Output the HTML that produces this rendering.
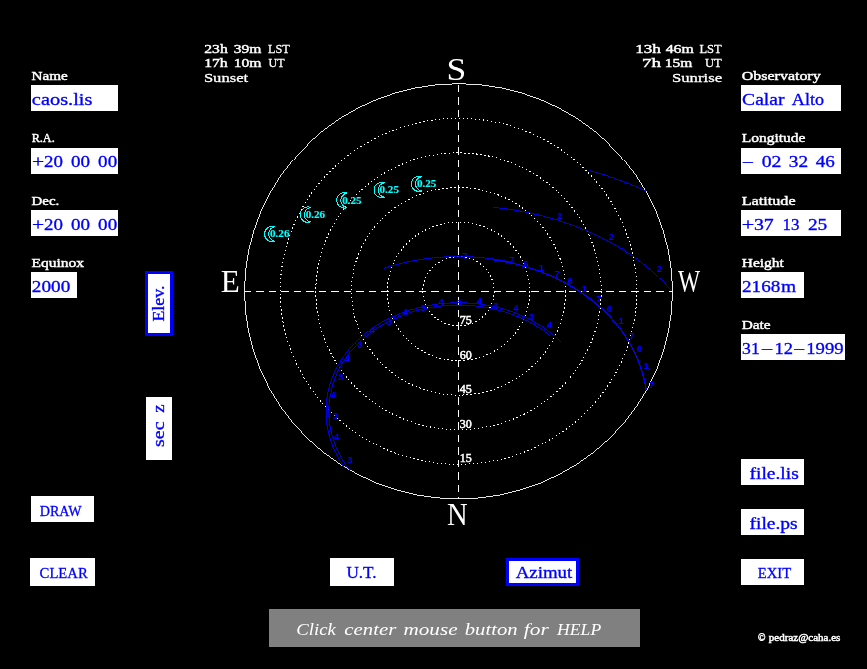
<!DOCTYPE html>
<html><head><meta charset="utf-8"><title>Visibility</title>
<style>html,body{margin:0;padding:0;background:#000;overflow:hidden}svg{display:block;will-change:transform}text{font-family:"Liberation Serif",serif;white-space:pre}.sm text{font-family:"Liberation Sans",sans-serif}</style>
</head><body>
<svg width="867" height="669" viewBox="0 0 867 669">
<rect width="867" height="669" fill="#000"/>
<rect x="31" y="85" width="87" height="26" fill="#fff"/>
<rect x="31" y="148" width="87" height="26" fill="#fff"/>
<rect x="31" y="210" width="87" height="26" fill="#fff"/>
<rect x="31" y="272" width="46" height="26" fill="#fff"/>
<rect x="741" y="85" width="100" height="26" fill="#fff"/>
<rect x="741" y="148" width="100" height="26" fill="#fff"/>
<rect x="741" y="210" width="100" height="26" fill="#fff"/>
<rect x="741" y="272" width="63" height="26" fill="#fff"/>
<rect x="741" y="334" width="104" height="26" fill="#fff"/>
<rect x="741" y="459" width="63" height="26" fill="#fff"/>
<rect x="741" y="509" width="63" height="26" fill="#fff"/>
<rect x="741" y="559" width="63" height="26" fill="#fff"/>
<rect x="31" y="496" width="63" height="26" fill="#fff"/>
<rect x="30" y="558" width="65" height="28" fill="#fff"/>
<rect x="330" y="558" width="64" height="28" fill="#fff"/>
<rect x="145" y="271" width="28" height="65" fill="#0000ff"/>
<rect x="148" y="274" width="22" height="59" fill="#fff"/>
<rect x="146" y="397" width="26" height="63" fill="#fff"/>
<rect x="506" y="558" width="73" height="28" fill="#0000ff"/>
<rect x="509" y="561" width="67" height="22" fill="#fff"/>
<rect x="269" y="609" width="371" height="38" fill="#808080"/>
<g fill="#fff" stroke="#fff" stroke-width="0.45">
<text x="31.54" y="79.7" font-size="13.2" textLength="36.25" lengthAdjust="spacingAndGlyphs">Name</text>
<text x="31.63" y="141.7" font-size="13.2" textLength="23.15" lengthAdjust="spacingAndGlyphs">R.A.</text>
<text x="31.55" y="204.7" font-size="13.2" textLength="27.71" lengthAdjust="spacingAndGlyphs">Dec.</text>
<text x="31.54" y="266.7" font-size="13.2" textLength="52.5" lengthAdjust="spacingAndGlyphs">Equinox</text>
<text x="741.86" y="79.7" font-size="13.2" textLength="78.78" lengthAdjust="spacingAndGlyphs">Observatory</text>
<text x="741.73" y="141.7" font-size="13.2" textLength="63.81" lengthAdjust="spacingAndGlyphs">Longitude</text>
<text x="741.71" y="204.5" font-size="13.2" textLength="53.9" lengthAdjust="spacingAndGlyphs">Latitude</text>
<text x="741.74" y="266.5" font-size="13.2" textLength="42.07" lengthAdjust="spacingAndGlyphs">Height</text>
<text x="741.74" y="328.5" font-size="13.2" textLength="28.96" lengthAdjust="spacingAndGlyphs">Date</text>
<text x="204.3" y="53" font-size="13.2" textLength="23.44" lengthAdjust="spacingAndGlyphs">23h</text>
<text x="233.8" y="53" font-size="13.2" textLength="27.7" lengthAdjust="spacingAndGlyphs">39m</text>
<text x="267.93" y="53" font-size="13.2" textLength="21.89" lengthAdjust="spacingAndGlyphs" stroke-width="0.3">LST</text>
<text x="204.16" y="67.2" font-size="13.2" textLength="23.57" lengthAdjust="spacingAndGlyphs">17h</text>
<text x="233.67" y="67.2" font-size="13.2" textLength="27.83" lengthAdjust="spacingAndGlyphs">10m</text>
<text x="268.56" y="67.2" font-size="13.2" textLength="16.06" lengthAdjust="spacingAndGlyphs" stroke-width="0.3">UT</text>
<text x="203.92" y="81.5" font-size="13.2" textLength="44.19" lengthAdjust="spacingAndGlyphs" stroke-width="0.3">Sunset</text>
<text x="635.24" y="53" font-size="13.2" textLength="25.71" lengthAdjust="spacingAndGlyphs">13h</text>
<text x="665.68" y="53" font-size="13.2" textLength="28.02" lengthAdjust="spacingAndGlyphs">46m</text>
<text x="699.42" y="53" font-size="13.2" textLength="22.3" lengthAdjust="spacingAndGlyphs" stroke-width="0.3">LST</text>
<text x="641.96" y="67.2" font-size="13.2" textLength="19.02" lengthAdjust="spacingAndGlyphs">7h</text>
<text x="664.68" y="67.2" font-size="13.2" textLength="27.51" lengthAdjust="spacingAndGlyphs">15m</text>
<text x="704.95" y="67.2" font-size="13.2" textLength="16.78" lengthAdjust="spacingAndGlyphs" stroke-width="0.3">UT</text>
<text x="671.91" y="81.5" font-size="13.2" textLength="50.17" lengthAdjust="spacingAndGlyphs" stroke-width="0.3">Sunrise</text>
<text x="757.91" y="640.9" font-size="9.6" textLength="7.49" lengthAdjust="spacingAndGlyphs">©</text>
<text x="768.83" y="640.9" font-size="9.6" textLength="71.55" lengthAdjust="spacingAndGlyphs">pedraz@caha.es</text>
</g>
<g fill="#0000ff" stroke="#0000ff" stroke-width="0.32">
<text x="31.88" y="105" font-size="16.8" textLength="60.56" lengthAdjust="spacingAndGlyphs">caos.lis</text>
<text x="31.92" y="166.8" font-size="16.2" textLength="12.13" lengthAdjust="spacingAndGlyphs">+</text>
<text x="43.95" y="166.8" font-size="16.2" textLength="18.91" lengthAdjust="spacingAndGlyphs">20</text>
<text x="70.94" y="166.8" font-size="16.2" textLength="19.02" lengthAdjust="spacingAndGlyphs">00</text>
<text x="98.14" y="166.8" font-size="16.2" textLength="19.02" lengthAdjust="spacingAndGlyphs">00</text>
<text x="31.92" y="229.7" font-size="16.2" textLength="12.13" lengthAdjust="spacingAndGlyphs">+</text>
<text x="43.95" y="229.7" font-size="16.2" textLength="18.91" lengthAdjust="spacingAndGlyphs">20</text>
<text x="70.94" y="229.7" font-size="16.2" textLength="19.02" lengthAdjust="spacingAndGlyphs">00</text>
<text x="98.14" y="229.7" font-size="16.2" textLength="19.02" lengthAdjust="spacingAndGlyphs">00</text>
<text x="31.84" y="291.9" font-size="16.2" textLength="38.43" lengthAdjust="spacingAndGlyphs">2000</text>
<text x="742.12" y="105" font-size="16.8" textLength="42.29" lengthAdjust="spacingAndGlyphs">Calar</text>
<text x="791.82" y="105" font-size="16.8" textLength="32.17" lengthAdjust="spacingAndGlyphs">Alto</text>
<text x="761.71" y="166.7" font-size="16.2" textLength="19.78" lengthAdjust="spacingAndGlyphs">02</text>
<text x="788.83" y="166.7" font-size="16.2" textLength="19.33" lengthAdjust="spacingAndGlyphs">32</text>
<text x="815.82" y="166.7" font-size="16.2" textLength="19.05" lengthAdjust="spacingAndGlyphs">46</text>
<text x="741.79" y="230" font-size="16.2" textLength="12.49" lengthAdjust="spacingAndGlyphs">+</text>
<text x="753.91" y="230" font-size="16.2" textLength="19.78" lengthAdjust="spacingAndGlyphs">37</text>
<text x="782.46" y="230" font-size="16.2" textLength="16.91" lengthAdjust="spacingAndGlyphs">13</text>
<text x="807.93" y="230" font-size="16.2" textLength="19.34" lengthAdjust="spacingAndGlyphs">25</text>
<text x="742.04" y="292.3" font-size="16.2" textLength="38.22" lengthAdjust="spacingAndGlyphs">2168</text>
<text x="780.91" y="292.3" font-size="16.2" textLength="15.14" lengthAdjust="spacingAndGlyphs">m</text>
<text x="742.11" y="354" font-size="16.2" textLength="17.65" lengthAdjust="spacingAndGlyphs">31</text>
<text x="774.53" y="354" font-size="16.2" textLength="18.49" lengthAdjust="spacingAndGlyphs">12</text>
<text x="806.21" y="354" font-size="16.2" textLength="37.44" lengthAdjust="spacingAndGlyphs">1999</text>
<text x="749.52" y="478.6" font-size="16.5" textLength="49.21" lengthAdjust="spacingAndGlyphs">file.lis</text>
<text x="749.51" y="528.6" font-size="16.5" textLength="48.2" lengthAdjust="spacingAndGlyphs">file.ps</text>
<text x="757.76" y="577.7" font-size="15.6" textLength="33.39" lengthAdjust="spacingAndGlyphs">EXIT</text>
<text x="39.78" y="515.7" font-size="15.6" textLength="41.9" lengthAdjust="spacingAndGlyphs">DRAW</text>
<text x="39.61" y="577.7" font-size="15.6" textLength="48.13" lengthAdjust="spacingAndGlyphs">CLEAR</text>
<text x="346.46" y="578" font-size="16.5" textLength="30.14" lengthAdjust="spacingAndGlyphs">U.T.</text>
<text x="515.71" y="577.5" font-size="16" textLength="56.57" lengthAdjust="spacingAndGlyphs">Azimut</text>
<g transform="translate(163.9,321.6) rotate(-90)">
<text x="0" y="0" font-size="16.3" textLength="36" lengthAdjust="spacingAndGlyphs">Elev.</text>
</g>
<g transform="translate(164.1,446.1) rotate(-90)">
<text x="-0.8" y="0" font-size="17.5" textLength="25.43" lengthAdjust="spacingAndGlyphs">sec</text>
<text x="33.43" y="0" font-size="17.5" textLength="8.31" lengthAdjust="spacingAndGlyphs">z</text>
</g>
</g>
<g fill="#0000ff" stroke="#0000ff" stroke-width="0.32">
<text x="743.0" y="165.8" font-size="16.2" textLength="9.8" lengthAdjust="spacingAndGlyphs">–</text>
<text x="762.0" y="353.1" font-size="16.2" textLength="10.1" lengthAdjust="spacingAndGlyphs">–</text>
<text x="794.3" y="353.1" font-size="16.2" textLength="9.8" lengthAdjust="spacingAndGlyphs">–</text>
</g>
<g fill="#fff" font-style="italic">
<text x="296.37" y="634.6" font-size="17.5" textLength="39.56" lengthAdjust="spacingAndGlyphs">Click</text>
<text x="344.37" y="634.6" font-size="17.5" textLength="52.09" lengthAdjust="spacingAndGlyphs">center</text>
<text x="403.46" y="634.6" font-size="17.5" textLength="54.07" lengthAdjust="spacingAndGlyphs">mouse</text>
<text x="464.78" y="634.6" font-size="17.5" textLength="52.86" lengthAdjust="spacingAndGlyphs">button</text>
<text x="523.79" y="634.6" font-size="17.5" textLength="24.95" lengthAdjust="spacingAndGlyphs">for</text>
<text x="557.08" y="634.6" font-size="17.5" textLength="44.07" lengthAdjust="spacingAndGlyphs">HELP</text>
</g>
<g fill="none" stroke="#fff" stroke-width="1" shape-rendering="crispEdges">
<ellipse cx="458.5" cy="291.3" rx="214.0" ry="207.6" stroke-width="0.9"/>
<ellipse cx="458.5" cy="291.3" rx="35.67" ry="34.60" stroke-dasharray="1.4 2.6"/>
<ellipse cx="458.5" cy="291.3" rx="71.33" ry="69.20" stroke-dasharray="1.4 2.6"/>
<ellipse cx="458.5" cy="291.3" rx="107.00" ry="103.80" stroke-dasharray="1.4 2.6"/>
<ellipse cx="458.5" cy="291.3" rx="142.67" ry="138.40" stroke-dasharray="1.4 2.6"/>
<ellipse cx="458.5" cy="291.3" rx="178.33" ry="173.00" stroke-dasharray="1.4 2.6"/>
<path d="M244.5 291.5H672.5" stroke-dasharray="7.5 5" stroke-dashoffset="1"/>
<path d="M458.5 83.70000000000002V498.9" stroke-dasharray="7.5 5" stroke-dashoffset="-1"/>
</g>
<g fill="#fff">
<text x="446.49" y="80" font-size="32.3" textLength="19.79" lengthAdjust="spacingAndGlyphs">S</text>
<text x="447.04" y="525" font-size="32.3" textLength="20.7" lengthAdjust="spacingAndGlyphs">N</text>
<text x="220.87" y="292" font-size="32.3" textLength="19.02" lengthAdjust="spacingAndGlyphs">E</text>
<text x="678.0" y="292" font-size="32.3" textLength="22.09" lengthAdjust="spacingAndGlyphs">W</text>
</g>
<g fill="#fff" stroke="#fff" stroke-width="0.5">
<text x="459.8" y="323.9" font-size="11.5" textLength="12" lengthAdjust="spacingAndGlyphs">75</text>
<text x="459.8" y="358.5" font-size="11.5" textLength="12" lengthAdjust="spacingAndGlyphs">60</text>
<text x="459.8" y="393.1" font-size="11.5" textLength="12" lengthAdjust="spacingAndGlyphs">45</text>
<text x="459.8" y="427.7" font-size="11.5" textLength="12" lengthAdjust="spacingAndGlyphs">30</text>
<text x="459.8" y="462.3" font-size="11.5" textLength="12" lengthAdjust="spacingAndGlyphs">15</text>
</g>
<g fill="none" stroke="#0000ff" stroke-width="0.85" shape-rendering="crispEdges">
<path d="M349.2 469.7 L347.5 467.4 L345.8 465.0 L344.3 462.7 L342.8 460.3 L341.4 457.9 L340.1 455.4 L338.8 453.0 L337.7 450.6 L336.6 448.1 L335.6 445.7 L334.6 443.2 L333.8 440.8 L333.0 438.3 L332.2 435.9 L331.6 433.4 L331.0 431.0 L330.5 428.6 L330.1 426.1 L329.7 423.7 L329.4 421.3 L329.2 418.9 L329.0 416.6 L328.9 414.2 L328.8 411.8 L328.8 409.5 L328.9 407.2 L329.0 404.9 L329.2 402.6 L329.5 400.4 L329.8 398.1 L330.1 395.9 L330.5 393.7 L331.0 391.5 L331.5 389.4 L332.0 387.2 L332.6 385.1 L333.3 383.0 L334.0 381.0 L334.7 378.9 L335.5 376.9 L336.4 374.9 L337.2 373.0 L338.2 371.0 L339.1 369.1 L340.1 367.3 L341.2 365.4 L342.2 363.6 L343.4 361.8 L344.5 360.0 L345.7 358.3 L346.9 356.5 L348.2 354.8 L349.4 353.2 L350.8 351.6 L352.1 349.9 L353.5 348.4 L354.9 346.8 L356.3 345.3 L357.8 343.8 L359.3 342.3 L360.8 340.9 L362.3 339.5 L363.9 338.1 L365.5 336.8 L367.1 335.5 L368.7 334.2 L370.4 332.9 L372.0 331.7 L373.7 330.5 L375.4 329.3 L377.2 328.1 L378.9 327.0 L380.7 325.9 L382.5 324.9 L384.3 323.8 L386.1 322.8 L388.0 321.8 L389.8 320.9 L391.7 320.0 L393.6 319.1 L395.5 318.2 L397.4 317.4 L399.3 316.5 L401.3 315.8 L403.2 315.0 L405.2 314.3 L407.1 313.6 L409.1 312.9 L411.1 312.3 L413.1 311.7 L415.1 311.1 L417.1 310.5 L419.2 310.0 L421.2 309.5 L423.2 309.0 L425.3 308.5 L427.4 308.1 L429.4 307.7 L431.5 307.4 L433.6 307.0 L435.6 306.7 L437.7 306.4 L439.8 306.2 L441.9 305.9 L444.0 305.7 L446.1 305.6 L448.2 305.4 L450.3 305.3 L452.4 305.2 L454.5 305.1 L456.6 305.1 L458.7 305.1 L460.8 305.1 L462.9 305.1 L465.0 305.2 L467.1 305.3 L469.2 305.4 L471.3 305.6 L473.4 305.8 L475.5 306.0 L477.5 306.2 L479.6 306.5 L481.7 306.8 L483.8 307.1 L485.9 307.4 L487.9 307.8 L490.0 308.2 L492.0 308.6 L494.1 309.1 L496.1 309.6 L498.2 310.1 L500.2 310.6 L502.2 311.2 L504.2 311.8 L506.2 312.4 L508.2 313.0 L510.2 313.7 L512.1 314.4 L514.1 315.1 L516.1 315.9 L518.0 316.7 L519.9 317.5 L521.8 318.3 L523.7 319.2 L525.6 320.1 L527.5 321.0 L529.3 322.0 L531.2 323.0 L533.0 324.0 L534.8 325.0 L536.6 326.1 L538.3 327.2 L540.1 328.3 L541.8 329.5 L543.5 330.6 L545.2 331.9 L546.9 333.1 L548.6 334.4 L550.2 335.7"/>
<path d="M344.9 468.4 L343.2 465.8 L341.6 463.3 L340.0 460.8 L338.5 458.2 L337.2 455.7 L335.9 453.1 L334.7 450.5 L333.5 447.9 L332.5 445.3 L331.5 442.8 L330.7 440.2 L329.9 437.6 L329.1 435.0 L328.5 432.4 L327.9 429.9 L327.4 427.3 L327.0 424.7 L326.7 422.2 L326.4 419.7 L326.2 417.2 L326.1 414.7 L326.0 412.2 L326.0 409.7 L326.1 407.3 L326.2 404.9 L326.4 402.4 L326.6 400.1 L327.0 397.7 L327.3 395.4 L327.8 393.1 L328.3 390.8 L328.8 388.5 L329.4 386.3 L330.0 384.0 L330.7 381.8 L331.5 379.7 L332.3 377.6 L333.1 375.4 L334.0 373.4 L335.0 371.3 L336.0 369.3 L337.0 367.3 L338.1 365.3 L339.2 363.4 L340.3 361.5 L341.5 359.6 L342.7 357.8 L344.0 356.0 L345.3 354.2 L346.6 352.4 L348.0 350.7 L349.4 349.0 L350.8 347.3 L352.3 345.7 L353.8 344.1 L355.3 342.5 L356.9 341.0 L358.5 339.5 L360.1 338.0 L361.7 336.6 L363.4 335.1 L365.1 333.8 L366.8 332.4 L368.5 331.1 L370.3 329.8 L372.1 328.5 L373.9 327.3 L375.7 326.1 L377.6 324.9 L379.4 323.8 L381.3 322.7 L383.2 321.6 L385.1 320.6 L387.1 319.5 L389.0 318.6 L391.0 317.6 L393.0 316.7 L395.0 315.8 L397.0 314.9 L399.0 314.1 L401.0 313.3 L403.1 312.5 L405.1 311.8 L407.2 311.0 L409.3 310.4 L411.4 309.7 L413.5 309.1 L415.6 308.5 L417.7 307.9 L419.9 307.4 L422.0 306.9 L424.1 306.4 L426.3 306.0 L428.4 305.5 L430.6 305.2 L432.8 304.8 L435.0 304.5 L437.1 304.2 L439.3 303.9 L441.5 303.7 L443.7 303.4 L445.9 303.3 L448.1 303.1 L450.3 303.0 L452.5 302.9 L454.7 302.8 L456.9 302.8 L459.1 302.8 L461.3 302.8 L463.5 302.9 L465.7 302.9 L467.9 303.0 L470.1 303.2 L472.3 303.4 L474.5 303.6 L476.7 303.8 L478.8 304.0 L481.0 304.3 L483.2 304.6 L485.4 305.0 L487.5 305.4 L489.7 305.8 L491.9 306.2 L494.0 306.7 L496.1 307.1 L498.3 307.7 L500.4 308.2 L502.5 308.8 L504.6 309.4 L506.7 310.0 L508.8 310.7 L510.9 311.4 L513.0 312.1 L515.0 312.9 L517.1 313.7 L519.1 314.5 L521.1 315.4 L523.1 316.3 L525.1 317.2 L527.1 318.1 L529.0 319.1 L531.0 320.1 L532.9 321.1 L534.8 322.2 L536.7 323.3 L538.6 324.4 L540.4 325.5 L542.3 326.7 L544.1 327.9 L545.9 329.2 L547.6 330.5 L549.4 331.8 L551.1 333.1 L552.8 334.5 L554.5 335.9 L556.1 337.3 L557.8 338.8 L559.4 340.3 L560.9 341.8"/>
<path d="M383.9 268.3 L384.7 268.1 L385.5 267.8 L386.3 267.6 L387.1 267.3 L387.9 267.1 L388.6 266.8 L389.4 266.6 L390.2 266.4 L391.0 266.1 L391.8 265.9 L392.6 265.7 L393.4 265.4 L394.2 265.2 L395.0 265.0 L395.8 264.8 L396.6 264.5 L397.4 264.3 L398.2 264.1 L399.0 263.9 L399.8 263.7 L400.6 263.5 L401.4 263.3 L402.2 263.1 L403.0 262.9 L403.9 262.7 L404.7 262.6 L405.5 262.4 L406.3 262.2 L407.1 262.0 L407.9 261.8 L408.7 261.7 L409.5 261.5 L410.3 261.3 L411.1 261.2 L412.0 261.0 L412.8 260.8 L413.6 260.7 L414.4 260.5 L415.2 260.4 L416.0 260.2 L416.8 260.1 L417.7 260.0 L418.5 259.8 L419.3 259.7 L420.1 259.6 L420.9 259.4 L421.7 259.3 L422.6 259.2 L423.4 259.1 L424.2 258.9 L425.0 258.8 L425.8 258.7 L426.7 258.6 L427.5 258.5 L428.3 258.4 L429.1 258.3 L429.9 258.2 L430.8 258.1 L431.6 258.0 L432.4 257.9 L433.2 257.8 L434.0 257.8 L434.9 257.7 L435.7 257.6 L436.5 257.5 L437.3 257.4 L438.2 257.4 L439.0 257.3 L439.8 257.2 L440.6 257.2 L441.5 257.1 L442.3 257.1 L443.1 257.0 L443.9 257.0 L444.8 256.9 L445.6 256.9 L446.4 256.8 L447.2 256.8 L448.1 256.8 L448.9 256.7 L449.7 256.7 L450.5 256.7 L451.4 256.6 L452.2 256.6 L453.0 256.6 L453.8 256.6 L454.7 256.6 L455.5 256.5 L456.3 256.5 L457.2 256.5 L458.0 256.5 L458.8 256.5 L459.6 256.5 L460.5 256.5 L461.3 256.5 L462.1 256.6 L462.9 256.6 L463.8 256.6 L464.6 256.6 L465.4 256.6 L466.2 256.7 L467.1 256.7 L467.9 256.7 L468.7 256.7 L469.6 256.8 L470.4 256.8 L471.2 256.9 L472.0 256.9 L472.9 256.9 L473.7 257.0 L474.5 257.1 L475.3 257.1 L476.2 257.2 L477.0 257.2 L477.8 257.3 L478.6 257.4 L479.5 257.4 L480.3 257.5 L481.1 257.6 L481.9 257.6 L482.7 257.7 L483.6 257.8 L484.4 257.9 L485.2 258.0 L486.0 258.1 L486.9 258.2 L487.7 258.3 L488.5 258.4 L489.3 258.5 L490.1 258.6 L491.0 258.7 L491.8 258.8 L492.6 258.9 L493.4 259.0 L494.2 259.2 L495.1 259.3 L495.9 259.4 L496.7 259.5 L497.5 259.7 L498.3 259.8 L499.1 259.9 L500.0 260.1 L500.8 260.2 L501.6 260.4 L502.4 260.5 L503.2 260.7 L504.0 260.8 L504.8 261.0 L505.7 261.1 L506.5 261.3 L507.3 261.5 L508.1 261.6 L508.9 261.8 L509.7 262.0 L510.5 262.1 L511.3 262.3 L512.1 262.5 L512.9 262.7 L513.7 262.9"/>
<path d="M491.7 259.5 L493.0 259.7 L494.3 259.9 L495.6 260.1 L496.9 260.3 L498.2 260.5 L499.4 260.7 L500.7 260.9 L502.0 261.1 L503.3 261.4 L504.6 261.6 L505.8 261.9 L507.1 262.1 L508.4 262.4 L509.7 262.7 L510.9 263.0 L512.2 263.2 L513.5 263.5 L514.7 263.8 L516.0 264.2 L517.3 264.5 L518.5 264.8 L519.8 265.1 L521.1 265.5 L522.3 265.8 L523.6 266.2 L524.8 266.5 L526.1 266.9 L527.3 267.3 L528.6 267.6 L529.8 268.0 L531.1 268.4 L532.3 268.8 L533.5 269.3 L534.8 269.7 L536.0 270.1 L537.2 270.5 L538.5 271.0 L539.7 271.4 L540.9 271.9 L542.1 272.3 L543.4 272.8 L544.6 273.3 L545.8 273.8 L547.0 274.3 L548.2 274.8 L549.4 275.3 L550.6 275.8 L551.8 276.3 L553.0 276.9 L554.2 277.4 L555.4 278.0 L556.6 278.5 L557.8 279.1 L558.9 279.7 L560.1 280.2 L561.3 280.8 L562.5 281.4 L563.6 282.0 L564.8 282.7 L565.9 283.3 L567.1 283.9 L568.3 284.5 L569.4 285.2 L570.5 285.8 L571.7 286.5 L572.8 287.2 L574.0 287.9 L575.1 288.5 L576.2 289.2 L577.3 289.9 L578.4 290.7 L579.5 291.4 L580.6 292.1 L581.7 292.8 L582.8 293.6 L583.9 294.3 L585.0 295.1 L586.1 295.9 L587.2 296.7 L588.2 297.5 L589.3 298.3 L590.4 299.1 L591.4 299.9 L592.5 300.7 L593.5 301.5 L594.5 302.4 L595.6 303.2 L596.6 304.1 L597.6 305.0 L598.6 305.8 L599.6 306.7 L600.6 307.6 L601.6 308.5 L602.6 309.4 L603.6 310.4 L604.6 311.3 L605.5 312.2 L606.5 313.2 L607.5 314.2 L608.4 315.1 L609.3 316.1 L610.3 317.1 L611.2 318.1 L612.1 319.1 L613.0 320.1 L613.9 321.2 L614.8 322.2 L615.7 323.2 L616.6 324.3 L617.5 325.4 L618.3 326.4 L619.2 327.5 L620.0 328.6 L620.8 329.7 L621.7 330.8 L622.5 332.0 L623.3 333.1 L624.1 334.3 L624.9 335.4 L625.6 336.6 L626.4 337.8 L627.2 338.9 L627.9 340.1 L628.6 341.3 L629.4 342.6 L630.1 343.8 L630.8 345.0 L631.5 346.3 L632.1 347.5 L632.8 348.8 L633.5 350.1 L634.1 351.4 L634.7 352.7 L635.4 354.0 L636.0 355.3 L636.6 356.6 L637.1 358.0 L637.7 359.3 L638.3 360.7 L638.8 362.0 L639.3 363.4 L639.8 364.8 L640.3 366.2 L640.8 367.6 L641.3 369.1 L641.7 370.5 L642.2 371.9 L642.6 373.4 L643.0 374.9 L643.4 376.3 L643.8 377.8 L644.1 379.3 L644.5 380.8 L644.8 382.3 L645.1 383.9 L645.4 385.4 L645.7 386.9 L645.9 388.5 L646.2 390.1" stroke-width="1.35"/>
<path d="M492.9 207.4 L494.1 207.5 L495.3 207.6 L496.6 207.7 L497.8 207.9 L499.0 208.0 L500.2 208.2 L501.4 208.3 L502.6 208.5 L503.8 208.6 L505.0 208.8 L506.2 208.9 L507.5 209.1 L508.7 209.3 L509.9 209.5 L511.1 209.6 L512.3 209.8 L513.5 210.0 L514.7 210.2 L515.9 210.4 L517.1 210.6 L518.3 210.8 L519.5 211.0 L520.7 211.3 L521.9 211.5 L523.1 211.7 L524.3 211.9 L525.5 212.2 L526.7 212.4 L527.9 212.7 L529.1 212.9 L530.3 213.2 L531.5 213.4 L532.7 213.7 L533.9 213.9 L535.1 214.2 L536.3 214.5 L537.5 214.8 L538.7 215.1 L539.9 215.3 L541.1 215.6 L542.3 215.9 L543.5 216.2 L544.6 216.6 L545.8 216.9 L547.0 217.2 L548.2 217.5 L549.4 217.8 L550.6 218.2 L551.8 218.5 L553.0 218.8 L554.1 219.2 L555.3 219.5 L556.5 219.9 L557.7 220.3 L558.9 220.6 L560.0 221.0 L561.2 221.4 L562.4 221.8 L563.6 222.1 L564.7 222.5 L565.9 222.9 L567.1 223.3 L568.2 223.7 L569.4 224.1 L570.6 224.6 L571.7 225.0 L572.9 225.4 L574.1 225.8 L575.2 226.3 L576.4 226.7 L577.6 227.2 L578.7 227.6 L579.9 228.1 L581.0 228.5 L582.2 229.0 L583.3 229.5 L584.5 229.9 L585.6 230.4 L586.8 230.9 L587.9 231.4 L589.1 231.9 L590.2 232.4 L591.4 232.9 L592.5 233.4 L593.7 233.9 L594.8 234.5 L595.9 235.0 L597.1 235.5 L598.2 236.1 L599.3 236.6 L600.5 237.2 L601.6 237.7 L602.7 238.3 L603.8 238.9 L605.0 239.5 L606.1 240.0 L607.2 240.6 L608.3 241.2 L609.4 241.8 L610.5 242.4 L611.6 243.0 L612.7 243.7 L613.9 244.3 L615.0 244.9 L616.1 245.6 L617.2 246.2 L618.3 246.8 L619.3 247.5 L620.4 248.2 L621.5 248.8 L622.6 249.5 L623.7 250.2 L624.8 250.9 L625.9 251.6 L626.9 252.3 L628.0 253.0 L629.1 253.7 L630.2 254.4 L631.2 255.1 L632.3 255.8 L633.3 256.6 L634.4 257.3 L635.5 258.1 L636.5 258.8 L637.6 259.6 L638.6 260.4 L639.6 261.2 L640.7 261.9 L641.7 262.7 L642.8 263.5 L643.8 264.4 L644.8 265.2 L645.8 266.0 L646.9 266.8 L647.9 267.7 L648.9 268.5 L649.9 269.3 L650.9 270.2 L651.9 271.1 L652.9 271.9 L653.9 272.8 L654.9 273.7 L655.9 274.6 L656.8 275.5 L657.8 276.4 L658.8 277.4 L659.8 278.3 L660.7 279.2 L661.7 280.2 L662.6 281.1 L663.6 282.1 L664.5 283.0 L665.5 284.0 L666.4 285.0 L667.3 286.0 L668.3 287.0 L669.2 288.0 L670.1 289.0 L671.0 290.1"/>
<path d="M590.3 170.8 L590.7 170.9 L591.0 171.0 L591.4 171.1 L591.8 171.2 L592.1 171.3 L592.5 171.4 L592.8 171.5 L593.2 171.6 L593.5 171.7 L593.9 171.8 L594.2 171.9 L594.6 172.0 L594.9 172.1 L595.3 172.2 L595.6 172.3 L596.0 172.4 L596.3 172.5 L596.7 172.6 L597.1 172.7 L597.4 172.8 L597.8 172.9 L598.1 173.0 L598.5 173.1 L598.8 173.3 L599.2 173.4 L599.5 173.5 L599.9 173.6 L600.2 173.7 L600.6 173.8 L600.9 173.9 L601.3 174.0 L601.6 174.1 L602.0 174.2 L602.3 174.3 L602.7 174.5 L603.1 174.6 L603.4 174.7 L603.8 174.8 L604.1 174.9 L604.5 175.0 L604.8 175.1 L605.2 175.2 L605.5 175.3 L605.9 175.5 L606.2 175.6 L606.6 175.7 L606.9 175.8 L607.3 175.9 L607.6 176.0 L608.0 176.1 L608.3 176.3 L608.7 176.4 L609.0 176.5 L609.4 176.6 L609.7 176.7 L610.1 176.8 L610.4 177.0 L610.8 177.1 L611.2 177.2 L611.5 177.3 L611.9 177.4 L612.2 177.6 L612.6 177.7 L612.9 177.8 L613.3 177.9 L613.6 178.0 L614.0 178.2 L614.3 178.3 L614.7 178.4 L615.0 178.5 L615.4 178.7 L615.7 178.8 L616.1 178.9 L616.4 179.0 L616.8 179.1 L617.1 179.3 L617.5 179.4 L617.8 179.5 L618.2 179.6 L618.5 179.8 L618.9 179.9 L619.2 180.0 L619.6 180.1 L619.9 180.3 L620.3 180.4 L620.6 180.5 L621.0 180.7 L621.3 180.8 L621.7 180.9 L622.0 181.0 L622.4 181.2 L622.7 181.3 L623.1 181.4 L623.4 181.6 L623.8 181.7 L624.1 181.8 L624.5 182.0 L624.8 182.1 L625.2 182.2 L625.5 182.4 L625.9 182.5 L626.2 182.6 L626.6 182.8 L626.9 182.9 L627.3 183.0 L627.6 183.2 L628.0 183.3 L628.3 183.4 L628.7 183.6 L629.0 183.7 L629.4 183.8 L629.7 184.0 L630.1 184.1 L630.4 184.3 L630.7 184.4 L631.1 184.5 L631.4 184.7 L631.8 184.8 L632.1 184.9 L632.5 185.1 L632.8 185.2 L633.2 185.4 L633.5 185.5 L633.9 185.6 L634.2 185.8 L634.6 185.9 L634.9 186.1 L635.3 186.2 L635.6 186.4 L636.0 186.5 L636.3 186.6 L636.7 186.8 L637.0 186.9 L637.4 187.1 L637.7 187.2 L638.1 187.4 L638.4 187.5 L638.7 187.7 L639.1 187.8 L639.4 188.0 L639.8 188.1 L640.1 188.3 L640.5 188.4 L640.8 188.6 L641.2 188.7 L641.5 188.9 L641.9 189.0 L642.2 189.2 L642.6 189.3 L642.9 189.5 L643.3 189.6 L643.6 189.8 L643.9 189.9 L644.3 190.1 L644.6 190.2 L645.0 190.4 L645.3 190.5 L645.7 190.7 L646.0 190.8"/>
</g>
<g fill="#0000ff" font-size="9.5" font-weight="bold" text-anchor="middle" class="sm">
<text x="464.6" y="258.7">7</text>
<text x="512" y="262.9">7</text>
<text x="526" y="266.7">6</text>
<text x="541.5" y="271.2">1</text>
<text x="557.2" y="277.2">7</text>
<text x="570.2" y="283.7">6</text>
<text x="584.2" y="292.0">1</text>
<text x="599" y="301.6">7</text>
<text x="609.5" y="312.0">6</text>
<text x="621.1" y="324.0">1</text>
<text x="632" y="338.7">7</text>
<text x="639.5" y="351.5">6</text>
<text x="646.5" y="369.0">1</text>
<text x="651.6" y="388.4">7</text>
<text x="559.6" y="219.2">2</text>
<text x="611.4" y="240.3">2</text>
<text x="659.4" y="272.2">2</text>
<text x="405.2" y="315.0">4</text>
<text x="423" y="310.9">3</text>
<text x="441.1" y="305.4">4</text>
<text x="459" y="305.7">3</text>
<text x="479.3" y="303.9">4</text>
<text x="496" y="309.0">3</text>
<text x="515.9" y="311.3">4</text>
<text x="531.4" y="319.6">3</text>
<text x="549.4" y="328.3">4</text>
<text x="388.9" y="324.7">3</text>
<text x="372.5" y="333.2">4</text>
<text x="360" y="348.4">3</text>
<text x="347.4" y="361.6">4</text>
<text x="341" y="380.0">3</text>
<text x="333.2" y="397.8">4</text>
<text x="335.4" y="419.1">3</text>
<text x="336.3" y="440.0">4</text>
<text x="349.8" y="462.5">3</text>
</g>
<g fill="none" stroke="#00ffff" stroke-width="1" shape-rendering="crispEdges">
<path d="M275.0 226.8A7.7 7.7 0 1 0 275.0 241.2"/>
<path d="M275.0 226.8A7.25 7.25 0 0 0 275.0 241.2"/>
<path d="M310.7 207.5A7.7 7.7 0 1 0 310.7 221.9"/>
<path d="M310.7 207.5A7.25 7.25 0 0 0 310.7 221.9"/>
<path d="M347.2 193.2A7.7 7.7 0 1 0 347.2 207.6"/>
<path d="M347.2 193.2A7.25 7.25 0 0 0 347.2 207.6"/>
<path d="M384.5 182.8A7.7 7.7 0 1 0 384.5 197.2"/>
<path d="M384.5 182.8A7.25 7.25 0 0 0 384.5 197.2"/>
<path d="M421.9 176.6A7.7 7.7 0 1 0 421.9 191.0"/>
<path d="M421.9 176.6A7.25 7.25 0 0 0 421.9 191.0"/>
</g>
<g fill="#00ffff" stroke="#00ffff" stroke-width="0.15" font-weight="bold">
<text x="270.0" y="237.2" font-size="10.5" textLength="19.5" lengthAdjust="spacingAndGlyphs">0.26</text>
<text x="305.7" y="217.9" font-size="10.5" textLength="19.5" lengthAdjust="spacingAndGlyphs">0.26</text>
<text x="342.2" y="203.6" font-size="10.5" textLength="19.5" lengthAdjust="spacingAndGlyphs">0.25</text>
<text x="379.5" y="193.2" font-size="10.5" textLength="19.5" lengthAdjust="spacingAndGlyphs">0.25</text>
<text x="416.9" y="187.0" font-size="10.5" textLength="19.5" lengthAdjust="spacingAndGlyphs">0.25</text>
</g>
</svg></body></html>
